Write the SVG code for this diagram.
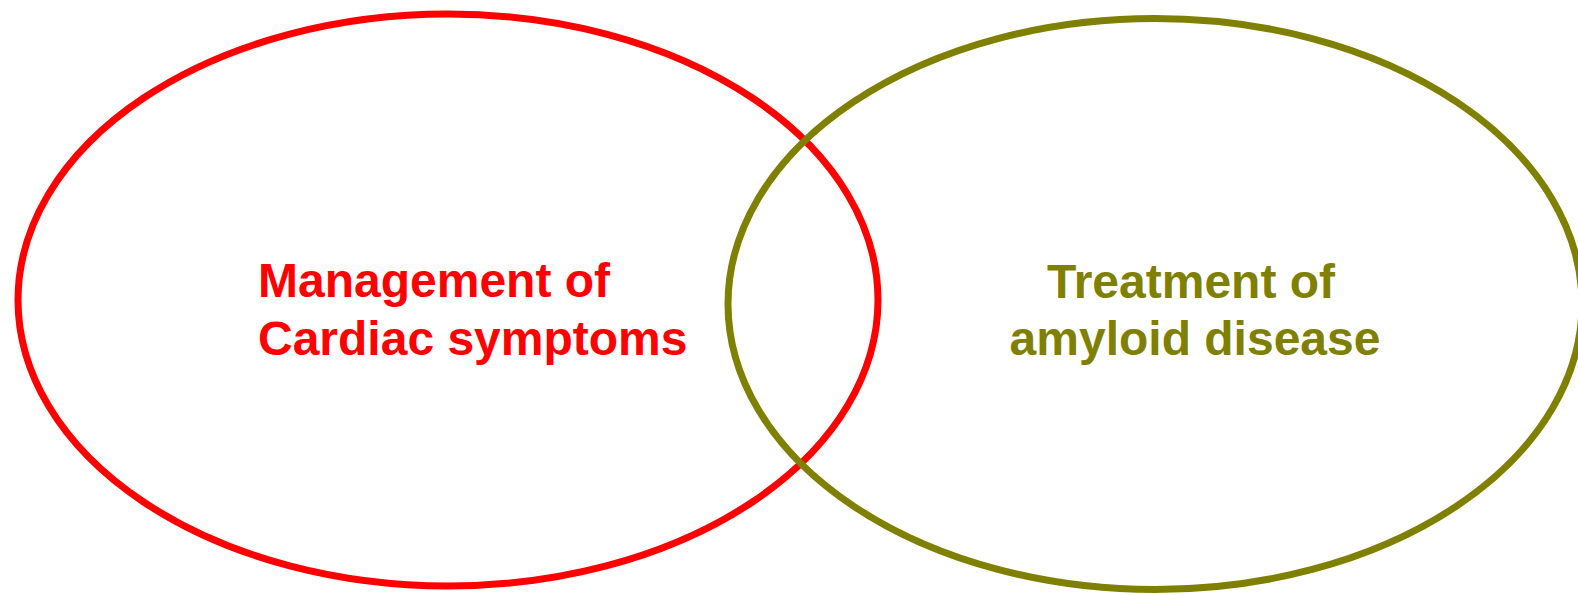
<svg xmlns="http://www.w3.org/2000/svg" width="1578" height="595" viewBox="0 0 1578 595">
<style>
.ell{fill:none;stroke-width:7}
.lbl{font-family:"Liberation Sans",Arial,sans-serif;font-weight:bold;font-size:48px}
</style>
<rect width="1578" height="595" fill="#ffffff"/>
<g id="node-cardiac">
<ellipse class="ell" cx="448" cy="300" rx="430" ry="286" stroke="#ff0000"/>
<text class="lbl" fill="#ff0000" x="258" y="297">Management of</text>
<text class="lbl" fill="#ff0000" x="258" y="355">Cardiac symptoms</text>
</g>
<g id="node-amyloid">
<ellipse class="ell" cx="1155" cy="304" rx="427" ry="285.5" stroke="#808000"/>
<text class="lbl" fill="#808000" x="1191" y="298" text-anchor="middle">Treatment of</text>
<text class="lbl" fill="#808000" x="1195" y="355" text-anchor="middle">amyloid disease</text>
</g>
<g id="connectors"></g>
</svg>
